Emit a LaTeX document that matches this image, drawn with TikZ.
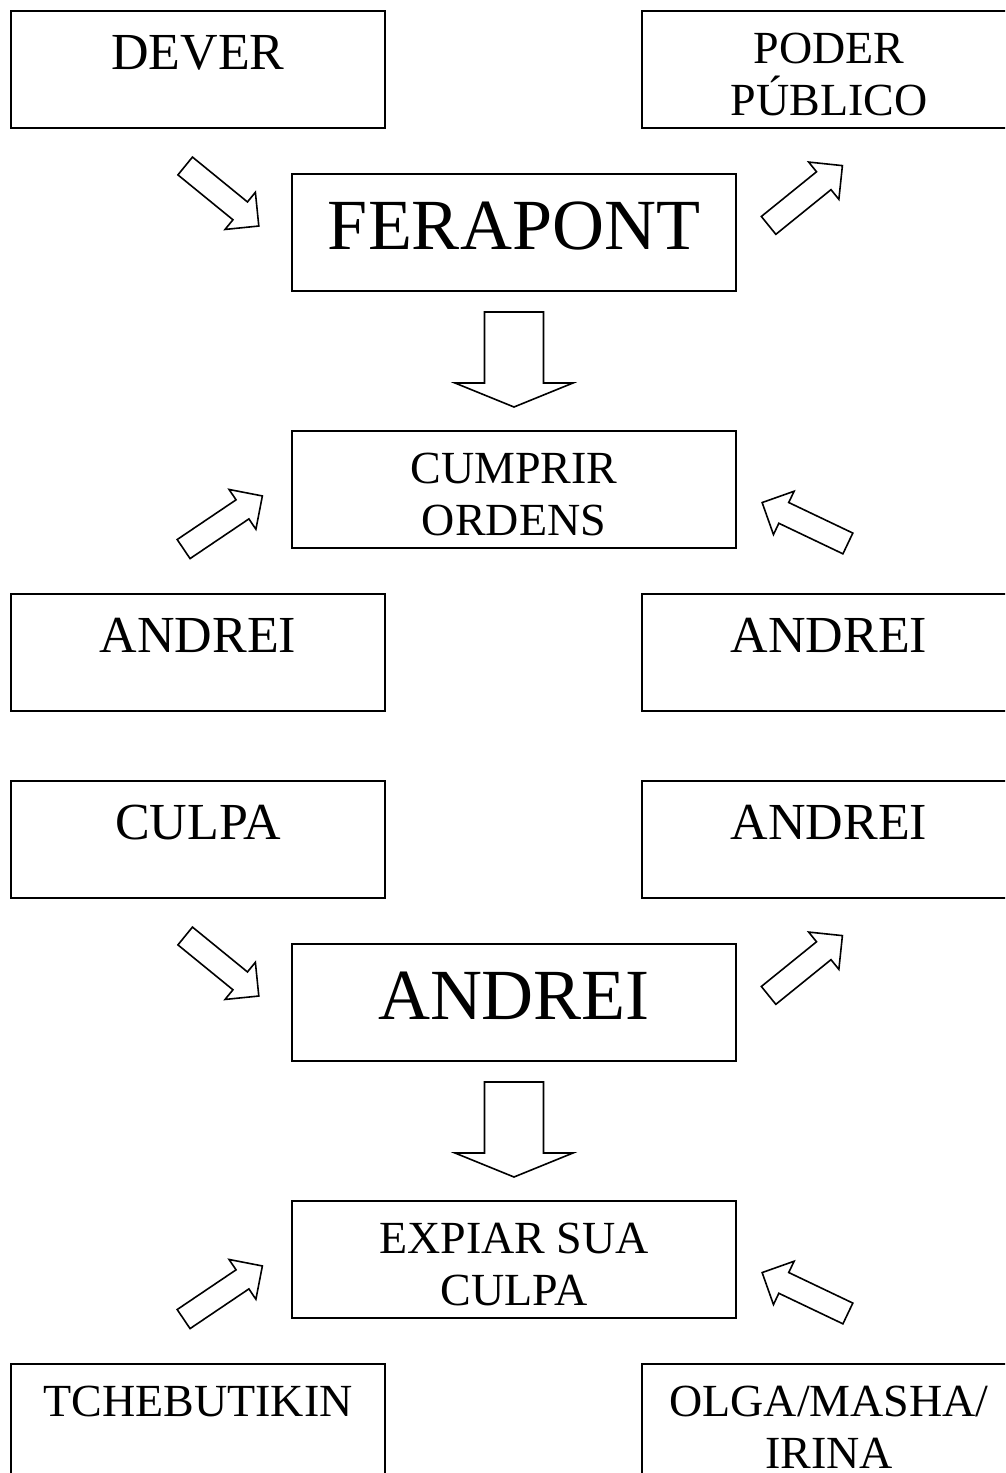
\documentclass[tikz,border=0pt]{standalone}
\usepackage{fontspec}
\setmainfont{Liberation Serif}
\newcommand{\linhas}[2]{\parbox[t]{#1}{\centering #2}}
\tikzset{
  caixa/.style={draw, line width=1.6pt, inner sep=0pt, minimum width=374pt, minimum height=117pt, anchor=north},
  larga/.style={minimum width=444pt},
  lado/.style={caixa, font=\fontsize{52}{52}\selectfont, text height=58.5pt, text depth=58.5pt},
  grande/.style={caixa, larga, font=\fontsize{72}{72}\selectfont, text height=76pt, text depth=41pt},
  duas/.style={caixa, font=\fontsize{46}{52}\selectfont, text height=53pt, text depth=64pt},
  seta/.style={draw, line width=1.6pt, fill=white, line join=miter},
  diag/.pic={\path[seta] (-47.5,-11.5) -- (23.5,-11.5) -- (23.5,-24) -- (47.5,0) -- (23.5,24) -- (23.5,11.5) -- (-47.5,11.5) -- cycle;},
  baixo/.pic={\path[seta] (-47.5,-29.5) -- (23.5,-29.5) -- (23.5,-59) -- (47.5,0) -- (23.5,59) -- (23.5,29.5) -- (-47.5,29.5) -- cycle;}
}
\begin{document}
\begin{tikzpicture}[x=1pt,y=-1pt]
 \useasboundingbox (0,0) rectangle (1005,1473);
 \clip (0,0) rectangle (1005,1473);
 % upper half
 \node[lado] (dever) at (198,10) {DEVER};
 \node[duas] (poder) at (829,10) {\linhas{374pt}{PODER\\PÚBLICO}};
 \node[grande] (ferapont) at (514,173) {FERAPONT};
 \node[duas, larga] (cumprir) at (514,430) {\linhas{444pt}{CUMPRIR\\ORDENS}};
 \node[lado] (andreiesq) at (198,593) {ANDREI};
 \node[lado] (andreidir) at (829,593) {ANDREI};
 \pic[rotate=-39.2] at (222,196) {diag};
 \pic[rotate=39] at (805.5,195.5) {diag};
 \pic[rotate=-90] at (514,359.5) {baixo};
 \pic[rotate=34] at (223,522.5) {diag};
 \pic[rotate=154.5] at (805,523) {diag};
 % lower half
 \node[lado] (culpa) at (198,780) {CULPA};
 \node[lado] (andreidir2) at (829,780) {ANDREI};
 \node[grande] (andrei) at (514,943) {ANDREI};
 \node[duas, larga] (expiar) at (514,1200) {\linhas{444pt}{EXPIAR SUA\\CULPA}};
 \node[duas] (tchebutikin) at (198,1363) {TCHEBUTIKIN};
 \node[duas] (irmas) at (829,1363) {\linhas{374pt}{OLGA/MASHA/\\IRINA}};
 \pic[rotate=-39.2] at (222,966) {diag};
 \pic[rotate=39] at (805.5,965.5) {diag};
 \pic[rotate=-90] at (514,1129.5) {baixo};
 \pic[rotate=34] at (223,1292.5) {diag};
 \pic[rotate=154.5] at (805,1293) {diag};
\end{tikzpicture}
\end{document}
